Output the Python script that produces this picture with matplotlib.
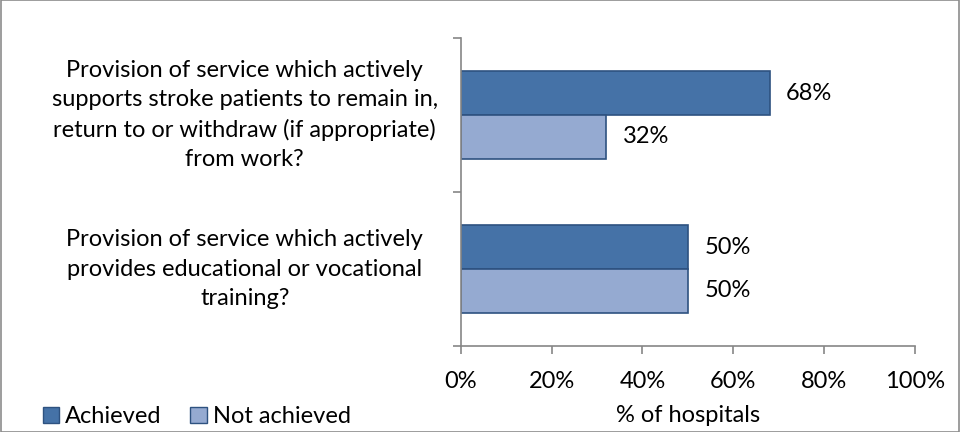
import numpy as np
import matplotlib.pyplot as plt
from matplotlib.patches import Rectangle
from matplotlib.transforms import blended_transform_factory

plt.rcParams['font.family'] = ['Lato', 'DejaVu Sans']

# survey questions, bottom to top as drawn on the y axis
questions = [
    "Provision of service which actively\nprovides educational or vocational\ntraining?",
    "Provision of service which actively\nsupports stroke patients to remain in,\nreturn to or withdraw (if appropriate)\nfrom work?",
]
achieved = [50, 68]
not_achieved = [50, 32]
series_names = ["Achieved", "Not achieved"]
x_ticks = [0, 20, 40, 60, 80, 100]

COL_ACH = '#4572A7'
COL_NOT = '#95AAD1'
EDGE = '#2E5280'
AXIS_GREY = '#868686'
FS = 17

fig = plt.figure(figsize=(9.6, 4.32), dpi=100)
ax = fig.add_axes([0.480, 0.199, 0.473, 0.713])

y = np.arange(len(questions))
h = 0.285
ax.barh(y + h / 2, achieved, height=h, color=COL_ACH, edgecolor=EDGE, linewidth=1.2)
ax.barh(y - h / 2, not_achieved, height=h, color=COL_NOT, edgecolor=EDGE, linewidth=1.2)

for yi, v in zip(y + h / 2, achieved):
    ax.annotate(f"{v}%", (v, yi), xytext=(12, 0), textcoords='offset points',
                va='center', ha='left', fontsize=FS)
for yi, v in zip(y - h / 2, not_achieved):
    ax.annotate(f"{v}%", (v, yi), xytext=(12, 0), textcoords='offset points',
                va='center', ha='left', fontsize=FS)

ax.set_xlim(0, 100)
ax.set_ylim(-0.5, len(questions) - 0.5)
ax.set_xticks(x_ticks)
ax.set_xticklabels([f"{t}%" for t in x_ticks], fontsize=FS)
ax.tick_params(axis='x', direction='out', length=6, width=1.2, color=AXIS_GREY, pad=12)
ax.set_yticks(np.arange(-0.5, len(questions), 1.0))
ax.set_yticklabels([])
ax.tick_params(axis='y', direction='out', length=6, width=1.2, color=AXIS_GREY)
ax.set_xlabel("% of hospitals", fontsize=FS, labelpad=9)

for side in ['top', 'right']:
    ax.spines[side].set_visible(False)
for side in ['left', 'bottom']:
    ax.spines[side].set_color(AXIS_GREY)
    ax.spines[side].set_linewidth(1.2)

# category labels, centred in the space left of the axis
trans = blended_transform_factory(fig.transFigure, ax.transData)
for yi, q in zip(y, questions):
    ax.text(0.255, yi, q, transform=trans, ha='center', va='center',
            fontsize=FS, linespacing=1.48)

# legend along the bottom left
handles = [Rectangle((0, 0), 1, 1, facecolor=c, edgecolor=EDGE, linewidth=1)
           for c in (COL_ACH, COL_NOT)]
fig.legend(handles, series_names, loc='lower left', bbox_to_anchor=(0.03, -0.022),
           ncol=2, frameon=False, fontsize=FS, handlelength=0.7, handleheight=0.7,
           handletextpad=0.25, columnspacing=1.2, borderaxespad=0.2)

# outer chart frame
fig.patches.append(Rectangle((0.001, 0.001), 0.998, 0.998, transform=fig.transFigure,
                             fill=False, edgecolor='#8C8C8C', linewidth=1.2))

fig.savefig('out.png', dpi=100)
